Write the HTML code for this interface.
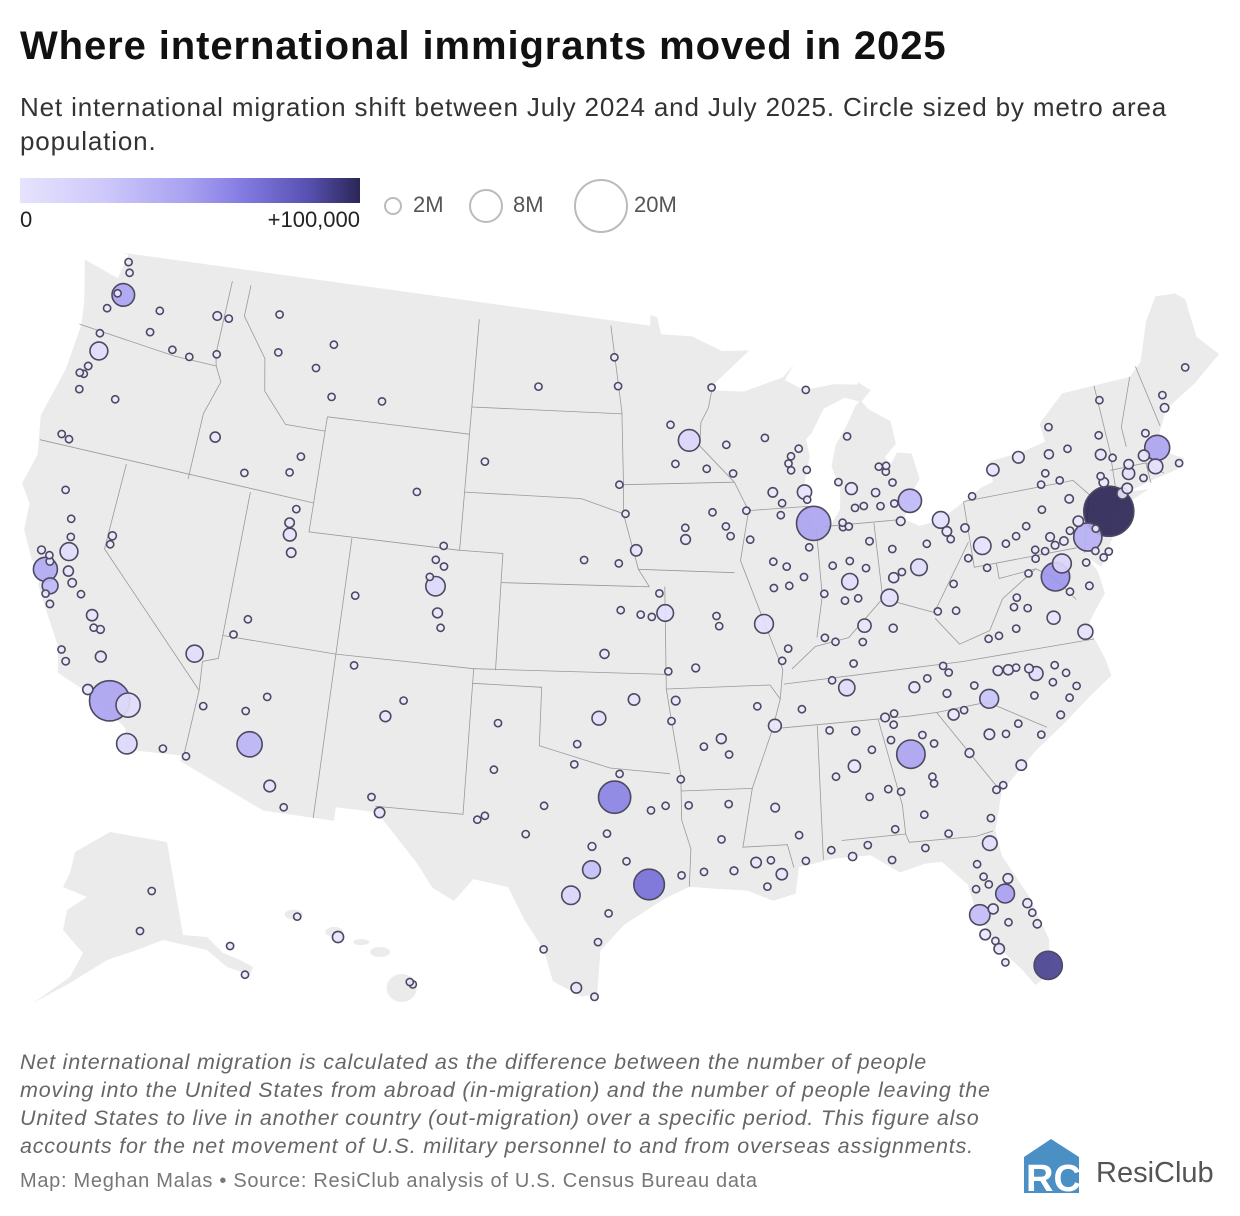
<!DOCTYPE html>
<html><head><meta charset="utf-8"><style>
body{margin:0;background:#fff;}
#wrap{position:relative;width:1240px;height:1216px;overflow:hidden;font-family:"Liberation Sans",sans-serif;}
.t{position:absolute;white-space:nowrap;}
</style></head><body>
<div id="wrap">
<div class="t" style="left:20px;top:24px;font-size:40px;font-weight:bold;color:#111;letter-spacing:0.9px;">Where international immigrants moved in 2025</div>
<div class="t" style="left:20px;top:90px;font-size:26px;line-height:34px;color:#333;letter-spacing:0.85px;">Net international migration shift between July 2024 and July 2025. Circle sized by metro area<br>population.</div>
<div style="position:absolute;left:20px;top:178px;width:340px;height:25px;background:linear-gradient(90deg,#e6e3fd 0%,#cdc8fa 25%,#a7a0f0 50%,#857ce3 65%,#5750b0 85%,#2b2656 100%);"></div>
<div class="t" style="left:20px;top:207px;font-size:22px;color:#222;">0</div>
<div class="t" style="left:260px;top:207px;font-size:22px;color:#222;width:100px;text-align:right;">+100,000</div>
<div class="t" style="left:413px;top:192px;font-size:22px;color:#555;">2M</div>
<div class="t" style="left:513px;top:192px;font-size:22px;color:#555;">8M</div>
<div class="t" style="left:634px;top:192px;font-size:22px;color:#555;">20M</div>
<div class="t" style="left:20px;top:1048px;font-size:21.5px;line-height:28px;font-style:italic;color:#666;letter-spacing:0.8px;">Net international migration is calculated as the difference between the number of people<br>moving into the United States from abroad (in-migration) and the number of people leaving the<br>United States to live in another country (out-migration) over a specific period. This figure also<br>accounts for the net movement of U.S. military personnel to and from overseas assignments.</div>
<div class="t" style="left:20px;top:1170px;font-size:20px;color:#777;letter-spacing:0.7px;">Map: Meghan Malas • Source: ResiClub analysis of U.S. Census Bureau data</div>
<svg style="position:absolute;left:1024px;top:1137px" width="60" height="58" viewBox="0 0 60 58">
<path d="M0 20 L27 2 L55 20 L55 56 L0 56 Z" fill="#4a90c4"/>
<text x="2" y="54" font-family="Liberation Sans,sans-serif" font-weight="bold" font-size="38" fill="#fff">RC</text>
</svg>
<div class="t" style="left:1096px;top:1157px;font-size:29px;color:#555;">ResiClub</div>
<svg id="map" style="position:absolute;left:0;top:0" width="1240" height="1216"></svg>
</div>
<script>
// ---- data ----
const outlineLonLat=[[-123.0,49.0],[-95.15,49.0],[-95.15,49.38],[-94.8,49.3],[-94.6,48.7],[-93.0,48.6],[-91.5,48.05],[-89.6,48.0],[-84.8,46.6],[-84.1,46.2],[-82.4,45.0],[-82.4,43.0],[-83.1,42.3],[-82.5,41.7],[-79.0,42.5],[-79.0,43.3],[-76.8,43.6],[-76.2,44.2],[-74.9,45.0],[-71.5,45.0],[-70.8,45.4],[-70.0,46.7],[-69.2,47.45],[-68.2,47.35],[-67.8,47.07],[-67.8,45.7],[-67.0,44.9],[-68.5,44.2],[-70.2,43.6],[-70.8,42.9],[-71.0,42.3],[-70.0,41.8],[-70.5,41.5],[-71.5,41.4],[-72.9,41.2],[-72.0,41.1],[-73.9,40.6],[-74.0,40.5],[-74.1,39.8],[-74.9,38.9],[-75.5,39.4],[-75.1,38.8],[-75.0,38.0],[-75.9,37.2],[-76.0,36.9],[-75.6,35.8],[-75.5,35.2],[-76.5,34.7],[-77.9,33.9],[-79.2,33.2],[-80.9,32.0],[-81.4,30.7],[-81.3,29.8],[-80.5,28.3],[-80.0,26.7],[-80.2,25.5],[-80.8,25.2],[-81.2,25.8],[-81.8,26.5],[-82.6,27.9],[-82.8,29.0],[-83.7,29.9],[-84.4,29.9],[-85.4,29.7],[-86.5,30.4],[-88.0,30.4],[-89.4,30.2],[-89.6,29.3],[-90.5,29.1],[-91.5,29.5],[-92.7,29.6],[-93.8,29.7],[-94.8,29.3],[-96.4,28.4],[-97.3,27.5],[-97.4,26.0],[-98.0,25.9],[-99.1,26.4],[-99.5,27.5],[-100.3,28.5],[-101.0,29.6],[-102.4,29.8],[-103.1,29.0],[-104.0,29.4],[-104.7,30.2],[-106.5,31.8],[-108.2,31.8],[-108.2,31.33],[-111.1,31.33],[-114.8,32.5],[-114.7,32.7],[-117.1,32.5],[-117.3,33.2],[-118.4,33.8],[-119.2,34.1],[-120.6,34.5],[-120.9,35.4],[-121.9,36.6],[-122.4,37.2],[-122.5,37.8],[-123.0,38.0],[-123.7,38.9],[-123.8,39.8],[-124.4,40.4],[-124.1,41.5],[-124.5,42.8],[-124.0,44.6],[-123.9,46.2],[-124.1,47.0],[-124.7,48.4],[-122.8,48.1],[-122.6,49.0]];
const lakes=[
[[-87.5,41.65],[-86.8,41.8],[-86.3,42.3],[-86.2,43.0],[-86.5,43.8],[-86.2,44.5],[-85.6,45.1],[-85.0,45.8],[-84.8,45.9],[-85.5,46.1],[-86.6,45.8],[-87.3,45.0],[-87.6,44.8],[-87.5,44.2],[-87.9,43.2],[-87.8,42.5]],
[[-92.1,46.7],[-90.5,46.6],[-88.5,47.0],[-87.9,47.4],[-88.4,46.9],[-87.5,46.5],[-86.0,46.6],[-84.8,46.5],[-84.5,47.5],[-88.4,48.6],[-89.6,48.3],[-92.0,46.9]],
[[-84.1,46.3],[-84.7,45.9],[-84.4,45.6],[-83.4,45.1],[-83.3,44.3],[-83.9,43.9],[-83.7,43.6],[-83.3,44.0],[-82.6,43.9],[-82.4,43.0],[-81.5,44.5],[-82.0,45.6]],
[[-83.4,41.7],[-82.7,41.4],[-81.7,41.5],[-80.5,42.0],[-79.0,42.6],[-79.0,42.9],[-80.5,42.7],[-83.1,42.1]],
[[-79.1,43.2],[-77.5,43.3],[-76.2,43.5],[-76.3,44.2],[-77.5,44.1],[-79.1,43.6]]];
const stateLines=[
[[-124,46.2],[-119,46],[-116.9,46.0]],
[[-117.04,49],[-117.04,46.4],[-116.9,46],[-116.5,45.5],[-117,44.3],[-117.03,42]],
[[-124.2,42],[-111.05,42]],
[[-116.05,49],[-116.05,47.9],[-114.6,46.6],[-114.3,45.5],[-113,44.5],[-111.05,44.5]],
[[-111.05,45],[-104.05,45]],
[[-111.05,45],[-111.05,41],[-104.05,41]],
[[-104.05,49],[-104.05,41],[-102.05,41],[-102.05,37]],
[[-104.05,45.94],[-96.56,45.94]],
[[-104.05,43],[-98.5,43],[-96.5,42.5]],
[[-102.05,40],[-95.3,40]],
[[-109.05,41],[-109.05,31.33]],
[[-109.05,37],[-103,37]],
[[-114.05,42],[-114.05,36.2],[-114.7,36],[-114.6,35],[-114.7,32.7]],
[[-114.05,37],[-109.05,37]],
[[-120,42],[-120,39],[-114.6,35]],
[[-103,37],[-103,32],[-106.6,32]],
[[-103,37],[-94.6,37]],
[[-103,36.5],[-100,36.5],[-100,34.5],[-97,33.8],[-94.5,33.6]],
[[-94.6,40],[-94.6,36.5],[-94.4,35.4],[-94.05,33.55],[-94.05,32],[-93.7,31],[-93.8,29.7]],
[[-94.05,33],[-91.1,33]],
[[-94.6,36.5],[-90.1,36.5],[-89.7,36]],
[[-92.1,46.7],[-92.3,46.1],[-92.7,45.6],[-92.8,44.8],[-91.2,43.5]],
[[-96.5,43.5],[-91.2,43.5]],
[[-97.2,49],[-96.6,46],[-96.5,43.5],[-96.5,42.5],[-95.8,40.6],[-95.3,40]],
[[-95.8,40.6],[-91.4,40.4]],
[[-91.2,43.5],[-90.6,42.5],[-91.1,40.8],[-90.2,38.7],[-89.5,37],[-89.7,36],[-90.1,35],[-91.1,33],[-91.6,31],[-89.8,31],[-89.6,30.2]],
[[-90.6,42.5],[-87.8,42.5]],
[[-87.5,41.7],[-87.5,39.4],[-87.9,38]],
[[-89.1,37.0],[-88,37.7],[-86.5,37.9],[-84.8,39.1],[-82.6,38.4],[-80.6,40.6]],
[[-84.8,41.7],[-84.8,39.1]],
[[-87.2,41.76],[-83.4,41.7]],
[[-80.52,42],[-80.52,39.72],[-75.8,39.72]],
[[-80.5,42],[-75.3,42],[-74.7,41.4]],
[[-89.5,36.5],[-81.7,36.6],[-75.9,36.55]],
[[-90.1,35],[-84.3,35],[-83.1,35.0]],
[[-88.2,35],[-88.4,30.4]],
[[-85.6,35],[-85,32],[-85,31]],
[[-87.6,31],[-85,31],[-84.9,30.7],[-82.2,30.6],[-81.5,30.7]],
[[-83.1,35],[-81,32.1]],
[[-83.1,35],[-80.9,35.1],[-78.6,33.9]],
[[-82.6,38.2],[-81.7,37.2],[-80.3,37.5],[-79.5,38.5],[-77.8,39.3]],
[[-79.5,39.72],[-79.5,39.2],[-77.8,39.3],[-77.1,38.9],[-76.3,38]],
[[-73.3,45],[-73.3,42.7],[-73.5,41.0]],
[[-71.5,45],[-72.5,43.4],[-72.5,42.7]],
[[-73.5,42.05],[-71.8,42.0],[-71.1,41.5]],
[[-71.8,42],[-71.8,41.3]],
[[-71.1,45.3],[-70.7,43.1]],
[[-74.7,41.4],[-75.1,40.5],[-75.5,39.5]]];
// Alaska inset outline (inset drawing shape)
const akShape="75,852 110,832 167,842 183,935 207,937 223,953 240,960 253,967 250,975 227,967 207,950 163,940 137,950 107,960 70,983 33,1003 70,977 83,953 63,930 67,910 87,897 63,887 70,873";
const hiIslands=[[-159.5,22.05,9,5],[-158.0,21.47,9,5],[-157.0,21.13,8,3],[-156.3,20.8,10,5],[-155.5,19.6,15,14]];
// metros: [name, lon, lat, populationMillions, netIntlMigration]
const metroNames=[];const metroLon=[];const metroLat=[];const metroPop=[];const metroVal=[];
const metroRows=[
["New York",-74.0,40.7,19.9,100000],["Miami",-80.2,25.8,6.3,88000],["Houston",-95.4,29.8,7.5,65000],["Dallas",-96.8,32.8,8.3,55000],["Washington",-77.0,38.9,6.4,45000],["Chicago",-87.6,41.9,9.3,38000],["Los Angeles",-118.2,34.0,12.9,38000],["Boston",-71.1,42.4,5.0,38000],["Philadelphia",-75.2,40.0,6.3,32000],["Atlanta",-84.4,33.7,6.4,38000],["Phoenix",-112.1,33.5,5.1,30000],["Seattle",-122.3,47.6,4.1,38000],["San Francisco",-122.3,37.8,4.6,35000],["San Jose",-121.9,37.3,2.0,28000],["Orlando",-81.4,28.5,2.8,40000],["Tampa",-82.5,27.9,3.3,26000],["Detroit",-83.0,42.3,4.3,28000],["Austin",-97.7,30.3,2.5,24000],["San Antonio",-98.5,29.4,2.7,12000],["Riverside",-117.4,34.0,4.7,9000],["San Diego",-117.1,32.7,3.3,11000],["Sacramento",-121.5,38.6,2.5,9000],["Denver",-105.0,39.7,3.0,11000],["Minneapolis",-93.3,45.0,3.7,12000],["Las Vegas",-115.1,36.2,2.3,8000],["Portland",-122.7,45.5,2.5,9000],["Charlotte",-80.8,35.2,2.8,22000],["Baltimore",-76.6,39.3,2.8,12000],["Nashville",-86.8,36.2,2.1,9000],["Indianapolis",-86.2,39.8,2.1,8000],["Columbus",-83.0,40.0,2.2,9000],["Cleveland",-81.7,41.5,2.2,7000],["Pittsburgh",-80.0,40.4,2.4,5000],["St. Louis",-90.2,38.6,2.8,6000],["Kansas City",-94.6,39.1,2.2,7000],["Cincinnati",-84.5,39.1,2.3,6000],["Raleigh",-78.64,35.78,1.5,8000],["Jacksonville",-81.7,30.3,1.7,8000],["Salt Lake City",-111.9,40.8,1.3,5000],["Oklahoma City",-97.5,35.5,1.5,6000],["Memphis",-90.0,35.1,1.3,3000],["Milwaukee",-87.9,43.0,1.6,4000],["Louisville",-85.75,38.25,1.37,4000],["Virginia Beach",-76.2,36.85,1.8,5000],["Richmond",-77.44,37.54,1.35,4000],["New Orleans",-90.1,30.0,1.0,3000],["Buffalo",-78.9,42.9,1.2,4000],["Hartford",-72.7,41.8,1.2,6000],["Providence",-71.4,41.8,1.7,6000],["Tucson",-111.0,32.2,1.07,5000],["Fresno",-119.8,36.7,1.0,4000],["Omaha",-95.9,41.25,0.99,4000],["Tulsa",-96.0,36.15,1.03,3500],["Birmingham",-86.8,33.5,1.18,2000],["Grand Rapids",-85.67,42.96,1.1,2500],["Rochester NY",-77.6,43.16,1.06,2000],["El Paso",-106.4,31.8,0.87,4000],["McAllen",-98.2,26.2,0.9,3500],["Albuquerque",-106.6,35.1,0.92,2500],["Bakersfield",-119.0,35.4,0.92,3500],["Knoxville",-83.9,35.96,0.92,2000],["Worcester",-71.8,42.26,0.98,3500],["Bridgeport",-73.2,41.18,0.95,4000],["Greenville SC",-82.4,34.85,0.97,2000],["New Haven",-72.93,41.31,0.87,3000],["Allentown",-75.47,40.6,0.87,2500],["Baton Rouge",-91.1,30.45,0.87,2000],["Albany",-73.76,42.65,0.9,2500],["North Port",-82.4,27.2,0.9,2000],["Cape Coral",-81.95,26.64,0.85,4000],["Lakeland",-81.95,28.04,0.8,4000],["Columbia SC",-81.03,34.0,0.86,1500],["Charleston SC",-79.93,32.78,0.85,1500],["Oxnard",-119.2,34.2,0.84,3000],["Dayton",-84.2,39.76,0.81,1500],["Greensboro",-79.79,36.07,0.8,2000],["Stockton",-121.3,37.95,0.8,3000],["Boise",-116.2,43.6,0.8,2000],["Colorado Springs",-104.8,38.8,0.78,2500],["Little Rock",-92.3,34.75,0.76,1500],["Des Moines",-93.6,41.6,0.73,2500],["Deltona",-81.2,29.0,0.72,2500],["Madison",-89.4,43.07,0.7,2500],["Akron",-81.5,41.08,0.7,1200],["Provo",-111.7,40.2,0.7,2500],["Ogden",-112.0,41.2,0.7,2000],["Winston-Salem",-80.24,36.1,0.7,1200],["Springfield MA",-72.59,42.1,0.7,1500],["Poughkeepsie",-73.92,41.7,0.7,1500],["Syracuse",-76.15,43.05,0.66,1500],["Wichita",-97.3,37.7,0.65,2000],["Palm Bay",-80.6,28.05,0.65,2000],["Augusta",-81.97,33.47,0.63,1000],["Toledo",-83.55,41.65,0.6,1000],["Harrisburg",-76.88,40.27,0.6,1500],["Durham",-78.9,35.99,0.6,2500],["Spokane",-117.4,47.7,0.6,2000],["Fayetteville AR",-94.2,36.1,0.59,2000],["Jackson MS",-90.2,32.3,0.59,600],["Chattanooga",-85.3,35.05,0.58,1200],["Scranton",-75.66,41.41,0.57,1000],["Lancaster",-76.3,40.04,0.56,1000],["Portland ME",-70.26,43.66,0.56,1000],["Modesto",-121.0,37.6,0.55,2500],["Lansing",-84.55,42.73,0.54,1200],["Youngstown",-80.65,41.1,0.54,300],["Pensacola",-87.22,30.42,0.53,800],["Port St. Lucie",-80.35,27.29,0.53,2500],["Huntsville",-86.6,34.7,0.52,1500],["Lexington",-84.5,38.05,0.52,1500],["Reno",-119.8,39.5,0.5,2000],["Springfield MO",-93.3,37.2,0.49,1000],["Killeen",-97.7,31.1,0.49,1500],["Santa Rosa",-122.7,38.4,0.48,1500],["Visalia",-119.3,36.3,0.48,2000],["Asheville",-82.55,35.6,0.48,600],["Lafayette LA",-92.0,30.2,0.48,800],["Wilmington NC",-77.94,34.23,0.47,800],["York",-76.73,39.96,0.46,800],["Vallejo",-122.2,38.1,0.45,1500],["Salem",-123.0,44.9,0.44,1500],["Santa Maria",-120.4,34.95,0.44,1500],["Salinas",-121.7,36.7,0.43,2000],["Fort Wayne",-85.1,41.1,0.43,1200],["Reading",-75.93,40.34,0.43,1500],["Manchester",-71.46,42.99,0.43,1200],["Brownsville",-97.5,25.9,0.43,1500],["Salisbury",-75.6,38.36,0.43,500],["Savannah",-81.1,32.08,0.43,1000],["Corpus Christi",-97.4,27.8,0.42,1200],["Mobile",-88.05,30.7,0.42,700],["Gulfport",-89.1,30.4,0.42,500],["Ocala",-82.14,29.19,0.42,800],["Naples",-81.79,26.14,0.41,3000],["Flint",-83.7,43.0,0.4,400],["Peoria",-89.6,40.7,0.4,600],["Beaumont",-94.1,30.1,0.4,800],["Canton",-81.38,40.8,0.4,300],["Myrtle Beach",-78.89,33.69,0.4,500],["Montgomery",-86.3,32.4,0.39,800],["Shreveport",-93.75,32.5,0.39,500],["Tallahassee",-84.28,30.44,0.39,800],["Fayetteville NC",-78.88,35.05,0.39,800],["Eugene",-123.1,44.05,0.38,1200],["Davenport",-90.6,41.5,0.38,800],["Trenton",-74.76,40.22,0.38,2000],["Fort Collins",-105.1,40.6,0.37,1500],["Ann Arbor",-83.74,42.28,0.37,2000],["Hickory",-81.34,35.73,0.37,400],["Huntington",-82.44,38.42,0.36,300],["Spartanburg",-81.93,34.95,0.36,500],["Greeley",-104.7,40.4,0.35,1000],["Gainesville FL",-82.32,29.65,0.35,1500],["Lincoln",-96.7,40.8,0.34,1500],["Clarksville",-87.4,36.5,0.34,800],["Boulder",-105.3,40.0,0.33,1500],["Lubbock",-101.85,33.6,0.33,1000],["Green Bay",-88.0,44.5,0.33,800],["Rockford",-89.1,42.27,0.33,600],["Columbus GA",-84.99,32.46,0.33,500],["South Bend",-86.25,41.68,0.32,700],["Roanoke",-79.94,37.27,0.32,500],["Kennewick",-119.2,46.2,0.31,1500],["Evansville",-87.55,37.97,0.31,600],["Kingsport",-82.55,36.55,0.31,400],["Olympia",-122.9,47.0,0.3,1200],["Sioux Falls",-96.7,43.5,0.3,1200],["Waco",-97.1,31.55,0.3,800],["Crestview",-86.57,30.76,0.3,500],["Hagerstown",-77.72,39.64,0.3,500],["Duluth",-92.1,46.8,0.29,400],["Merced",-120.5,37.3,0.29,1200],["Longview TX",-94.7,32.5,0.29,400],["Utica",-75.23,43.1,0.29,600],["Bremerton",-122.6,47.6,0.28,1000],["San Luis Obispo",-120.7,35.3,0.28,1000],["Cedar Rapids",-91.7,42.0,0.28,600],["College Station",-96.3,30.6,0.28,1500],["Norwich",-72.08,41.52,0.28,600],["Amarillo",-101.8,35.2,0.27,1200],["Laredo",-99.5,27.5,0.27,1500],["Erie",-80.08,42.13,0.27,400],["Atlantic City",-74.42,39.36,0.27,800],["Lynchburg",-79.14,37.41,0.27,300],["Tuscaloosa",-87.6,33.2,0.27,800],["Santa Cruz",-122.0,37.0,0.27,1200],["Yakima",-120.5,46.6,0.26,1200],["Fargo",-96.8,46.9,0.26,1200],["Kalamazoo",-85.6,42.29,0.26,600],["Prescott",-112.5,34.6,0.25,400],["Fort Smith",-94.4,35.4,0.25,500],["Appleton",-88.4,44.26,0.25,500],["Charleston WV",-81.63,38.35,0.25,200],["Tyler",-95.3,32.35,0.24,600],["Binghamton",-75.91,42.1,0.24,500],["Hilton Head",-80.8,32.2,0.24,300],["Macon",-83.63,32.84,0.24,400],["Bellingham",-122.5,48.75,0.23,1500],["Topeka",-95.7,39.05,0.23,500],["Rochester MN",-92.5,44.0,0.23,900],["Lafayette IN",-86.9,40.4,0.23,1500],["Burlington VT",-73.21,44.48,0.23,600],["Barnstable",-70.3,41.7,0.23,300],["Medford",-122.9,42.3,0.22,700],["Lake Havasu",-114.3,34.5,0.22,300],["Las Cruces",-106.8,32.3,0.22,800],["Lake Charles",-93.2,30.2,0.22,500],["Champaign",-88.25,40.1,0.22,1500],["Charlottesville",-78.48,38.03,0.22,800],["Athens",-83.38,33.96,0.22,800],["Gainesville GA",-83.82,34.3,0.22,800],["Bend",-121.3,44.05,0.21,600],["Chico",-121.8,39.7,0.21,700],["Yuma",-114.6,32.7,0.21,800],["Columbia MO",-92.3,38.95,0.21,800],["Elkhart",-85.98,41.68,0.21,400],["Johnson City",-82.35,36.3,0.21,400],["Jacksonville NC",-77.43,34.75,0.21,500],["Panama City",-85.66,30.16,0.21,400],["St. George",-113.6,37.1,0.2,500],["St. Cloud",-94.2,45.55,0.2,500],["Springfield IL",-89.65,39.8,0.2,400],["Racine",-87.8,42.73,0.2,300],["Houma",-90.7,29.6,0.2,300],["Monroe",-92.1,32.5,0.2,300],["Florence SC",-79.76,34.2,0.2,200],["Warner Robins",-83.6,32.6,0.2,300],["Punta Gorda",-82.05,26.93,0.2,300],["Billings",-108.5,45.8,0.19,400],["Bowling Green",-86.4,37.0,0.19,800],["Auburn",-85.5,32.6,0.19,700],["Dover",-75.52,39.16,0.19,300],["Redding",-122.4,40.6,0.18,400],["Yuba City",-121.6,39.1,0.18,800],["El Centro",-115.6,32.8,0.18,1000],["Coeur d'Alene",-116.8,47.7,0.18,300],["Midland",-102.1,32.0,0.18,800],["Abilene",-99.7,32.45,0.18,500],["Joplin",-94.5,37.1,0.18,300],["Iowa City",-91.5,41.66,0.18,800],["Jackson TN",-88.8,35.6,0.18,200],["Terre Haute",-87.4,39.47,0.18,300],["Muskegon",-86.25,43.23,0.18,200],["Kingston",-74.0,41.93,0.18,300],["Burlington NC",-79.44,36.1,0.18,300],["Greenville NC",-77.37,35.61,0.18,300],["Pueblo",-104.6,38.3,0.17,300],["Waterloo",-92.3,42.5,0.17,400],["Bloomington IL",-89.0,40.5,0.17,600],["Bloomington IN",-86.5,39.17,0.17,700],["Oshkosh",-88.55,44.02,0.17,300],["Wausau",-89.6,44.96,0.17,200],["Eau Claire",-91.5,44.8,0.17,300],["Hattiesburg",-89.3,31.3,0.17,300],["Blacksburg",-80.41,37.23,0.17,500],["Sebastian",-80.47,27.7,0.17,300],["Odessa",-102.4,31.85,0.16,700],["Grand Junction",-108.55,39.07,0.16,300],["Idaho Falls",-112.0,43.5,0.16,300],["Janesville",-89.0,42.68,0.16,200],["Jackson MI",-84.4,42.25,0.16,200],["State College",-77.86,40.79,0.16,800],["Chambersburg",-77.66,39.94,0.16,200],["Flagstaff",-111.7,35.2,0.15,500],["Logan",-111.8,41.7,0.15,500],["Hanford",-119.6,36.3,0.15,600],["Rapid City",-103.2,44.1,0.15,200],["Sioux City",-96.4,42.5,0.15,500],["Wichita Falls",-98.5,33.9,0.15,400],["Texarkana",-94.05,33.4,0.15,200],["Alexandria",-92.45,31.3,0.15,200],["Dothan",-85.4,31.2,0.15,200],["Florence AL",-87.7,34.8,0.15,200],["Owensboro",-87.1,37.8,0.12,200],["Elizabethtown",-85.9,37.7,0.15,200],["Santa Fe",-105.9,35.7,0.15,400],["Jefferson City",-92.2,38.6,0.15,200],["La Crosse",-91.24,43.8,0.14,300],["Jonesboro",-90.7,35.8,0.14,300],["Sherman",-96.6,33.6,0.14,300],["Hammond",-90.5,30.5,0.14,200],["Morgantown",-79.95,39.63,0.14,400],["Rocky Mount",-77.79,35.94,0.14,100],["Dalton",-84.97,34.77,0.14,300],["Morristown",-83.3,36.2,0.14,200],["Mount Vernon",-122.3,48.4,0.13,800],["Albany OR",-123.1,44.6,0.13,400],["Bismarck",-100.8,46.8,0.13,300],["Lawton",-98.4,34.6,0.13,300],["Manhattan KS",-96.6,39.2,0.13,400],["Ames",-93.6,42.0,0.13,600],["Carbondale",-89.2,37.7,0.13,300],["Napa",-122.3,38.3,0.13,600],["Sierra Vista",-110.3,31.55,0.13,300],["Springfield OH",-83.8,39.92,0.13,100],["Wheeling",-80.72,40.06,0.13,100],["Johnstown",-78.92,40.33,0.13,100],["Harrisonburg",-78.87,38.45,0.13,300],["Staunton",-79.07,38.15,0.13,100],["Pittsfield",-73.25,42.45,0.13,200],["Cleveland TN",-84.9,35.15,0.13,200],["Battle Creek",-85.18,42.32,0.13,200],["Wenatchee",-120.3,47.4,0.12,600],["Bozeman",-111.0,45.7,0.12,500],["Missoula",-114.0,46.9,0.12,400],["Twin Falls",-114.5,42.6,0.12,300],["Farmington",-108.2,36.7,0.12,200],["San Angelo",-100.4,31.45,0.12,300],["Lawrence",-95.2,38.97,0.12,500],["St. Joseph",-94.85,39.77,0.12,200],["Sheboygan",-87.7,43.75,0.12,200],["Mansfield",-82.5,40.76,0.12,100],["Altoona",-78.4,40.52,0.12,100],["Glens Falls",-73.64,43.31,0.12,100],["New Bern",-77.04,35.1,0.12,100],["Goldsboro",-78.0,35.38,0.12,100],["Brunswick",-81.5,31.15,0.12,100],["Longview WA",-122.9,46.1,0.11,400],["Kalispell",-114.3,48.2,0.11,200],["Sebring",-81.44,27.5,0.11,200],["Watertown",-75.9,43.97,0.11,200],["Williamsport",-77.0,41.24,0.11,100],["Lewiston ME",-70.2,44.1,0.11,200],["Muncie",-85.4,40.2,0.11,200],["California MD",-76.5,38.3,0.11,200],["Corvallis",-123.3,44.6,0.09,800],["Grants Pass",-123.3,42.4,0.09,200],["Helena",-112.0,46.6,0.09,150],["Parkersburg",-81.56,39.27,0.09,100],["Ocean City",-74.7,39.2,0.09,100],["Pocatello",-112.4,42.9,0.1,200],["Cheyenne",-104.8,41.1,0.1,300],["Grand Forks",-97.0,47.9,0.1,300],["Victoria",-97.0,28.8,0.1,200],["Hot Springs",-93.05,34.5,0.1,100],["Dubuque",-90.7,42.5,0.1,200],["Kankakee",-87.9,41.1,0.1,200],["Decatur",-88.95,39.84,0.1,100],["Fond du Lac",-88.45,43.78,0.1,150],["Bay City",-83.9,43.6,0.1,100],["Lima",-84.1,40.74,0.1,100],["Ithaca",-76.5,42.44,0.1,500],["Gettysburg",-77.23,39.83,0.1,100],["Gadsden",-86.0,34.0,0.1,100],["Rome",-85.16,34.26,0.1,200],["Sumter",-80.34,33.92,0.1,100],["Cape Girardeau",-89.5,37.3,0.1,100],["Mankato",-94.0,44.2,0.1,300],["Saginaw",-83.95,43.4,0.19,200],["Traverse City",-85.6,44.76,0.15,200],["Niles",-86.25,41.83,0.15,200],["Bangor",-68.77,44.8,0.15,200],["Winchester",-78.16,39.19,0.15,300],["Vineland",-75.0,39.48,0.15,300],["Valdosta",-83.28,30.83,0.15,300],["Albany GA",-84.16,31.58,0.15,200],["Homosassa",-82.5,28.8,0.16,200],["The Villages",-81.98,28.9,0.15,100],["Casper",-106.3,42.85,0.08,200],["Great Falls",-111.3,47.5,0.08,200],["Grand Island",-98.3,40.9,0.08,400],["Pine Bluff",-92.0,34.2,0.08,100],["Kokomo",-86.1,40.5,0.08,100],["Columbus IN",-85.9,39.2,0.08,200],["Midland MI",-84.25,43.6,0.08,100],["Elmira",-76.8,42.09,0.08,100],["Marquette",-87.4,46.5,0.07,100],["Walla Walla",-118.3,46.1,0.06,300],["Lewiston ID",-117.0,46.4,0.06,200],["Carson City",-119.8,39.2,0.06,200],["Cedar City",-113.1,37.7,0.06,200]
];
metroRows.forEach(r=>{if(r[3]>0){metroNames.push(r[0]);metroLon.push(r[1]);metroLat.push(r[2]);metroPop.push(r[3]);metroVal.push(r[4]);}});
const akNames=["Anchorage","Fairbanks","Juneau","Ketchikan"];
const akLon=[-149.9,-147.7,-134.4,-131.6];
const akLat=[61.2,64.8,58.3,55.3];
const akPop=[0.4,0.1,0.03,0.01];
const akVal=[1500,300,100,100];
const hiNames=["Kapaa","Urban Honolulu","Kahului","Hilo"];
const hiLon=[-159.37,-157.86,-155.2,-155.09];
const hiLat=[21.98,21.3,19.8,19.72];
const hiPop=[0.07,1.0,0.16,0.2];
const hiVal=[200,3000,600,400];

// ---- scales ----
const S=1660,X0=634,Y0=660;
const n=(Math.sin(29.5*Math.PI/180)+Math.sin(45.5*Math.PI/180))/2;
const Cc=Math.cos(29.5*Math.PI/180)**2+2*n*Math.sin(29.5*Math.PI/180);
const rho0=Math.sqrt(Cc-2*n*Math.sin(37.5*Math.PI/180))/n;
function proj(lon,lat){const r=Math.sqrt(Cc-2*n*Math.sin(lat*Math.PI/180))/n;const th=n*(lon+96)*Math.PI/180;return [X0+S*r*Math.sin(th),Y0-S*(rho0-r*Math.cos(th))];}
function projAK(lon,lat){return [140+(lon+149.9)*5.3+(lon>-140?8:0),931-(lat-61.2)*10.5-(lon+149.9)*1.0];}
function projHI(lon,lat){return [338+(lon+157.86)*27,937+(21.3-lat)*30];}
function rScale(p){return Math.max(3.6,5.6*Math.sqrt(p));}
const stops=[[0,[236,233,253]],[0.1,[222,218,251]],[0.25,[196,190,247]],[0.45,[158,150,238]],[0.65,[120,112,216]],[0.85,[80,73,160]],[1,[43,38,86]]];
function cScale(v){const t=Math.max(0,Math.min(1,v/100000));for(let i=1;i<stops.length;i++){if(t<=stops[i][0]){const a=stops[i-1],b=stops[i];const f=(t-a[0])/(b[0]-a[0]);return 'rgb('+a[1].map((c,k)=>Math.round(c+(b[1][k]-c)*f)).join(',')+')';}}return 'rgb(43,38,86)';}

// ---- draw ----
const NS='http://www.w3.org/2000/svg';const svg=document.getElementById('map');
function mk(tag,attrs){const e=document.createElementNS(NS,tag);for(const k in attrs)e.setAttribute(k,attrs[k]);svg.appendChild(e);return e;}
function ptsStr(arr,f){return arr.map(p=>f(p[0],p[1]).map(v=>v.toFixed(1)).join(',')).join(' ');}
const land=mk('polygon',{points:ptsStr(outlineLonLat,proj),fill:'#ebebeb'});


lakes.forEach(l=>{const e=mk('polygon',{points:ptsStr(l,proj),fill:'#fff'});

});
stateLines.forEach(l=>{const e=mk('polyline',{points:ptsStr(l,proj),fill:'none',stroke:'#999',"stroke-width":0.8});

});
const ak=mk('polygon',{points:akShape,fill:'#ebebeb'});


hiIslands.forEach(h=>{const p=projHI(h[0],h[1]);const e=mk('ellipse',{cx:p[0],cy:p[1],rx:h[2],ry:h[3],fill:'#ebebeb'});

});
// size legend
[[393,8],[486,16],[601,26]].forEach((c,i)=>{const e=mk('circle',{cx:c[0],cy:206,r:c[1],fill:'none',stroke:'#bbb',"stroke-width":2});

});
// circles
const all=[];
metroLon.forEach((_,i)=>all.push({p:proj(metroLon[i],metroLat[i]),pop:metroPop[i],v:metroVal[i],name:metroNames[i]}));
akLon.forEach((_,i)=>all.push({p:projAK(akLon[i],akLat[i]),pop:akPop[i],v:akVal[i],name:akNames[i]}));
hiLon.forEach((_,i)=>all.push({p:projHI(hiLon[i],hiLat[i]),pop:hiPop[i],v:hiVal[i],name:hiNames[i]}));
all.sort((a,b)=>b.pop-a.pop);
all.forEach(d=>{const c=mk('circle',{cx:d.p[0].toFixed(1),cy:d.p[1].toFixed(1),r:rScale(d.pop).toFixed(1),fill:cScale(d.v),"fill-opacity":0.92,stroke:'#4d4960',"stroke-width":1.6});

});
</script>
</body></html>
